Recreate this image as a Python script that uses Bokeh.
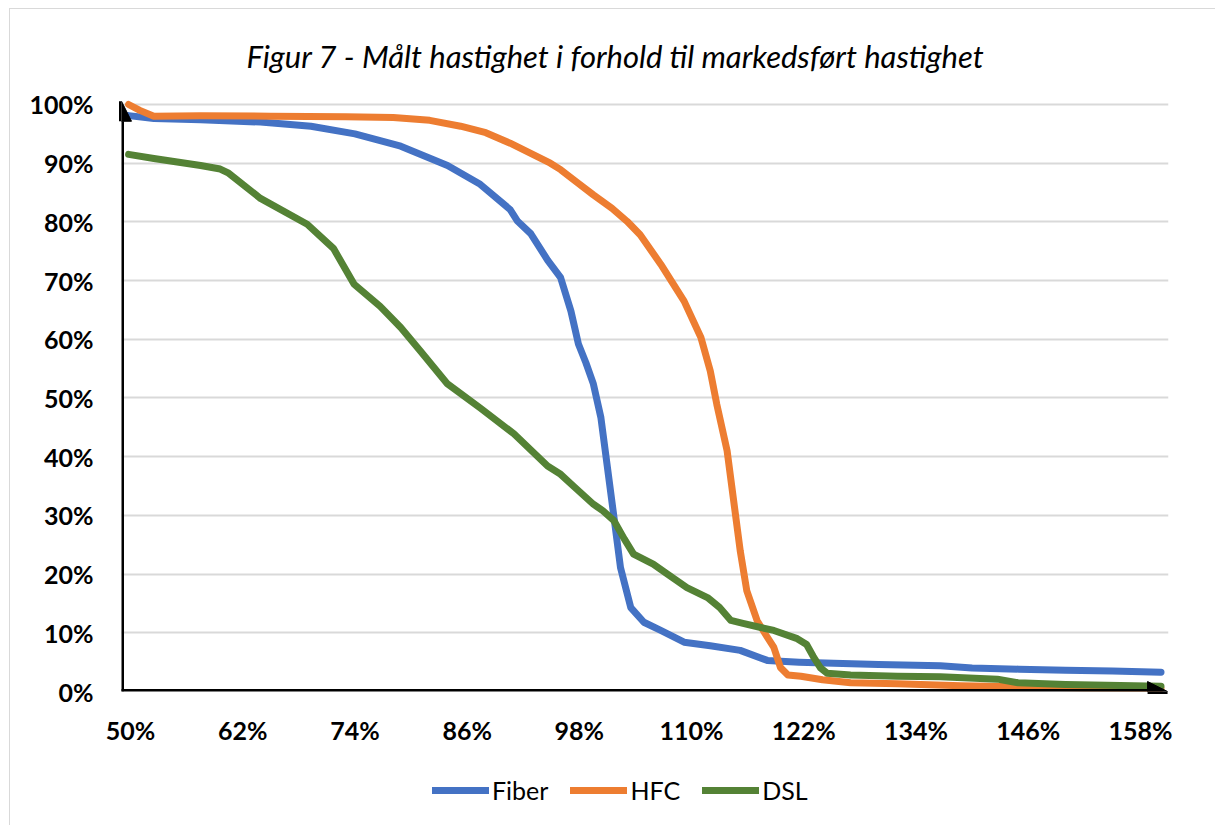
from bokeh.plotting import figure
from bokeh.layouts import column
from bokeh.models import (Arrow, NormalHead, Legend, LegendItem, PrintfTickFormatter,
                          FixedTicker, Range1d)
from bokeh.embed import file_html
from bokeh.resources import INLINE

title_text = "Figur 7 - Målt hastighet i forhold til markedsført hastighet"
series_names = ["Fiber", "HFC", "DSL"]
x_ticks = [50, 62, 74, 86, 98, 110, 122, 134, 146, 158]
y_ticks = [0, 10, 20, 30, 40, 50, 60, 70, 80, 90, 100]

fiber_x = [49.8, 52.5, 57.5, 63.9, 69.3, 74.0, 78.9, 83.9, 87.4, 90.6, 91.4, 92.8,
           94.6, 96.0, 97.1, 97.9, 98.7, 99.5, 100.3, 101.0, 101.7, 102.4, 103.5, 104.9,
           106.7, 109.2, 112.0, 115.2, 118.1, 121.5, 125.2, 130.0, 136.6, 140.0, 145.0,
           150.0, 155.0, 160.2]
fiber_y = [98.1, 97.6, 97.4, 97.0, 96.3, 95.0, 92.9, 89.6, 86.4, 82.1, 80.1, 78.0,
           73.5, 70.5, 64.8, 59.2, 56.0, 52.4, 46.7, 38.2, 29.7, 21.1, 14.3, 11.8,
           10.4, 8.4, 7.8, 7.0, 5.3, 5.0, 4.8, 4.6, 4.4, 4.0, 3.8,
           3.6, 3.5, 3.3]

hfc_x = [49.8, 51.0, 52.5, 57.5, 65.0, 73.0, 78.1, 82.0, 85.3, 88.0, 90.6, 94.9, 96.0,
         97.7, 99.5, 101.5, 103.1, 104.5, 106.7, 109.2, 111.0, 112.0, 112.7, 113.8, 114.5,
         115.2, 115.9, 117.0, 118.0, 118.8, 119.5, 120.3, 121.7, 124.0, 127.0, 132.0,
         138.8, 145.0, 152.0, 160.2]
hfc_y = [100.0, 99.0, 98.0, 98.1, 98.0, 97.9, 97.8, 97.3, 96.3, 95.2, 93.4, 90.0, 88.9,
         86.8, 84.6, 82.3, 80.1, 77.8, 72.8, 66.5, 60.3, 54.6, 48.9, 41.0, 32.5,
         24.0, 17.2, 12.1, 9.5, 7.5, 4.1, 2.8, 2.6, 2.0, 1.5, 1.3,
         1.0, 0.8, 0.6, 0.5]

dsl_x = [49.8, 52.5, 55.0, 57.5, 59.6, 60.5, 63.9, 68.9, 71.7, 73.9, 76.7, 78.9, 81.0,
         83.9, 87.4, 91.0, 94.6, 96.0, 97.5, 99.5, 100.5, 101.7, 102.8, 103.8, 105.9,
         107.5, 109.5, 111.7, 113.0, 114.2, 115.5, 117.4, 118.8, 121.3, 122.3, 123.0,
         123.8, 124.5, 127.0, 132.0, 136.6, 142.7, 144.9, 150.0, 160.2]
dsl_y = [91.5, 90.8, 90.2, 89.6, 89.0, 88.3, 84.0, 79.6, 75.5, 69.4, 65.6, 62.0, 58.0,
         52.4, 48.3, 43.9, 38.4, 37.0, 34.8, 31.9, 30.8, 29.1, 26.0, 23.4, 21.7,
         19.9, 17.7, 16.0, 14.3, 12.1, 11.6, 10.9, 10.4, 9.0, 8.0, 6.0,
         4.0, 3.1, 2.8, 2.6, 2.5, 2.1, 1.5, 1.2, 0.9]

colors = ["#4472C4", "#ED7D31", "#548235"]
FONT = "Lato"
LW = 7
xs_all = [fiber_x, hfc_x, dsl_x]
ys_all = [fiber_y, hfc_y, dsl_y]

XMIN, XMAX = 49.04, 161.0
YMIN, YMAX = 0.0, 100.85

# ---------------- main chart ----------------
p = figure(width=1205, height=751, output_backend="svg", toolbar_location=None,
           x_range=Range1d(XMIN, XMAX), y_range=Range1d(YMIN, YMAX),
           min_border_left=111, min_border_right=47, min_border_top=89,
           min_border_bottom=69)
p.outline_line_color = None
p.background_fill_color = "white"
p.border_fill_color = "white"

p.title.text = title_text
p.title.text_font = FONT
p.title.text_font_style = "italic"
p.title.text_font_size = "31px"
p.title.text_color = "black"
p.title.align = "left"
p.title.offset = 125
p.title.standoff = 50

for ax in (p.xaxis[0], p.yaxis[0]):
    ax.axis_line_color = None
    ax.major_tick_line_color = None
    ax.minor_tick_line_color = None
    ax.major_tick_out = 0
    ax.major_tick_in = 0
    ax.minor_tick_out = 0
    ax.major_label_text_font = FONT
    ax.major_label_text_font_style = "bold"
    ax.major_label_text_font_size = "25px"
    ax.major_label_text_color = "black"
    ax.formatter = PrintfTickFormatter(format="%d%%")
p.xaxis[0].ticker = FixedTicker(ticks=x_ticks)
p.yaxis[0].ticker = FixedTicker(ticks=y_ticks)
p.xaxis[0].major_label_standoff = 23
p.yaxis[0].major_label_standoff = 28

p.xgrid.grid_line_color = None
p.ygrid.ticker = FixedTicker(ticks=y_ticks[1:])
p.ygrid.grid_line_color = "#d9d9d9"
p.ygrid.grid_line_width = 2

for xs, ys, c in zip(xs_all, ys_all, colors):
    p.line(xs, ys, line_color=c, line_width=LW, line_join="round", line_cap="round")

# axes with arrow heads
p.add_layout(Arrow(x_start=XMIN, y_start=YMIN, x_end=XMIN, y_end=YMAX - 0.3,
                   line_color="black", line_width=5,
                   end=NormalHead(size=20, fill_color="black", fill_alpha=1.0,
                                  line_color="black", line_width=1)))
p.add_layout(Arrow(x_start=XMIN - 0.25, y_start=YMIN, x_end=XMAX - 0.1, y_end=YMIN,
                   line_color="black", line_width=5,
                   end=NormalHead(size=20, fill_color="black", fill_alpha=1.0,
                                  line_color="black", line_width=1)))

# ---------------- legend strip ----------------
p2 = figure(width=1205, height=65, output_backend="svg", toolbar_location=None,
            x_range=Range1d(0, 1), y_range=Range1d(0, 1),
            x_axis_location=None, y_axis_location=None,
            min_border=0, min_border_left=0, min_border_right=0,
            min_border_top=0, min_border_bottom=0)
p2.outline_line_color = None
p2.grid.grid_line_color = None
p2.background_fill_color = "white"
p2.border_fill_color = "white"

leg_renderers = []
for xs, ys, c in zip(xs_all, ys_all, colors):
    r = p2.line(xs, ys, line_color=c, line_width=LW, line_join="round", line_cap="round")
    leg_renderers.append(r)

legend = Legend(items=[LegendItem(label=n, renderers=[r]) for n, r in zip(series_names, leg_renderers)],
                orientation="horizontal", location=(311, 20),
                label_text_font=FONT, label_text_font_size="25px", label_text_color="black",
                glyph_width=57, glyph_height=24, label_height=24, label_standoff=3, spacing=22,
                padding=0, margin=0, border_line_color=None, background_fill_alpha=0)
p2.add_layout(legend)

layout = column(p, p2, spacing=0,
                styles={"border-top": "1px solid #d9d9d9", "border-left": "1px solid #d9d9d9",
                        "margin-top": "8px", "margin-left": "9px"})
open("out.html", "w").write(file_html(layout, INLINE))
